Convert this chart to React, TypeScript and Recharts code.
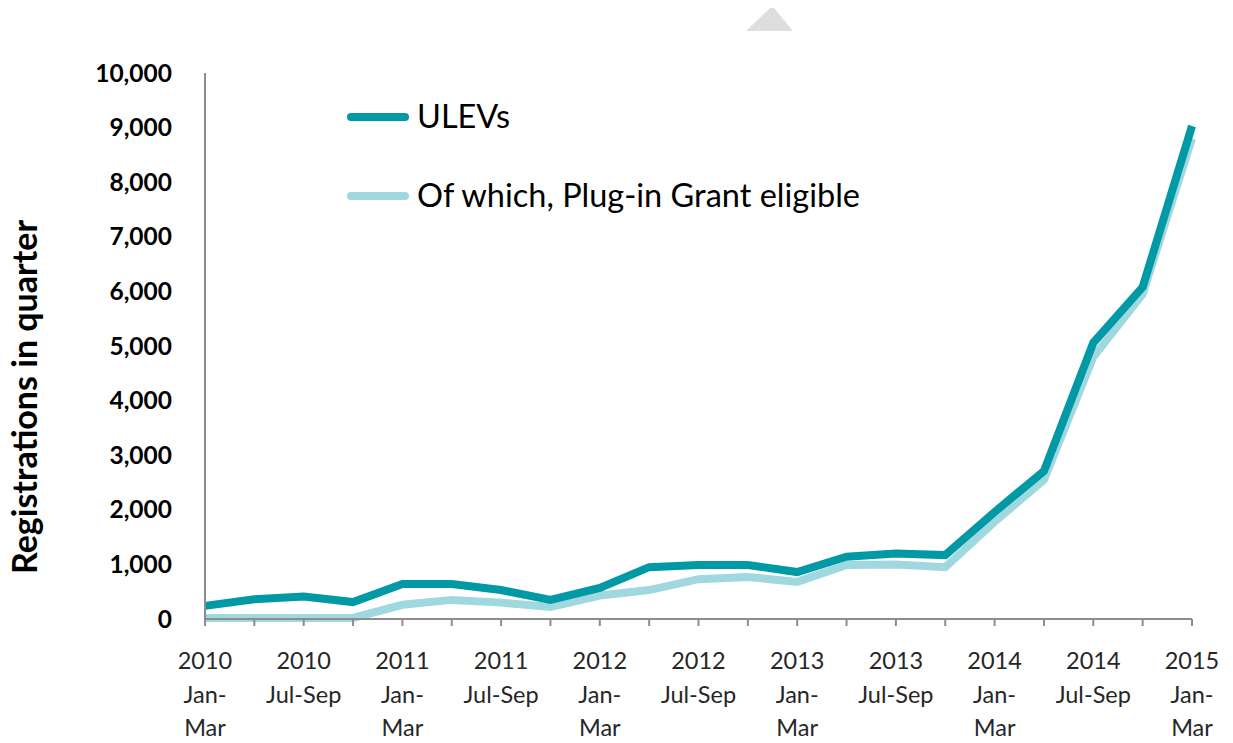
import { Line, LineChart, XAxis, YAxis, Label } from "recharts";

const years = ["2010", "2010", "2010", "2010", "2011", "2011", "2011", "2011", "2012", "2012", "2012", "2012", "2013", "2013", "2013", "2013", "2014", "2014", "2014", "2014", "2015"];
const quarters = ["Jan-Mar", "Apr-Jun", "Jul-Sep", "Oct-Dec", "Jan-Mar", "Apr-Jun", "Jul-Sep", "Oct-Dec", "Jan-Mar", "Apr-Jun", "Jul-Sep", "Oct-Dec", "Jan-Mar", "Apr-Jun", "Jul-Sep", "Oct-Dec", "Jan-Mar", "Apr-Jun", "Jul-Sep", "Oct-Dec", "Jan-Mar"];
const ulevs = [240, 360, 410, 310, 640, 640, 530, 350, 570, 950, 990, 990, 860, 1140, 1200, 1170, 1960, 2710, 5060, 6080, 9030];
const grantEligible = [20, 20, 20, 20, 260, 350, 300, 220, 430, 530, 730, 770, 680, 990, 1000, 950, 1780, 2550, 4800, 5950, 8800];
const yTicks = [0, 1000, 2000, 3000, 4000, 5000, 6000, 7000, 8000, 9000, 10000];

const data = years.map((y, i) => ({
  name: `${y} ${quarters[i]}`,
  year: y,
  quarter: quarters[i],
  ulevs: ulevs[i],
  grant: grantEligible[i],
}));

const DARK = "#0099a5";
const LIGHT = "#9fd9df";

function QuarterTick(props: any) {
  const { x, y, index } = props;
  if (index % 2 !== 0) return null;
  const d = data[index];
  const lines = d.quarter === "Jan-Mar" ? [d.year, "Jan-", "Mar"] : [d.year, d.quarter];
  return (
    <g>
      {lines.map((t, i) => (
        <text
          key={i}
          x={x}
          y={y + 41 + i * 33.5}
          textAnchor="middle"
          fontSize={23.5}
          fill="#262626"
          fontFamily="Lato, sans-serif"
        >
          {t}
        </text>
      ))}
    </g>
  );
}

function LegendBox() {
  const items = [
    { label: "ULEVs", color: DARK },
    { label: "Of which, Plug-in Grant eligible", color: LIGHT },
  ];
  return (
    <svg width={700} height={140} style={{ position: "absolute", left: 342, top: 95, overflow: "visible" }}>
      {items.map((it, i) => (
        <g key={it.label} transform={`translate(0, ${i * 79})`}>
          <line x1={9} x2={63} y1={22} y2={22} stroke={it.color} strokeWidth={8} strokeLinecap="round" />
          <text x={75} y={33} fontSize={32.5} fill="#000" fontFamily="Lato, sans-serif">
            {it.label}
          </text>
        </g>
      ))}
    </svg>
  );
}

export default function App() {
  return (
    <div style={{ position: "absolute", left: 0, top: 0, width: 1233, height: 743, background: "#fff" }}>
      <svg width={1233} height={743} style={{ position: "absolute", left: 0, top: 0 }}>
        <polygon points="746,31 770,8 774,8 793,31" fill="#dedede" />
      </svg>
      <div style={{ position: "absolute", left: 0, top: 0 }}>
        <LineChart
          width={1233}
          height={743}
          data={data}
          margin={{ top: 73, right: 41, left: 0, bottom: 0 }}
        >
          <XAxis
            dataKey="name"
            interval={0}
            height={124}
            stroke="#8c8c8c"
            strokeWidth={2}
            tickSize={7}
            tick={<QuarterTick />}
          />
          <YAxis
            width={205}
            domain={[0, 10000]}
            ticks={yTicks}
            interval={0}
            tickLine={false}
            stroke="#8c8c8c"
            strokeWidth={2}
            tickMargin={27}
            tick={{ fill: "#000", fontSize: 24.5, fontWeight: 700, fontFamily: "Lato, sans-serif" }}
            tickFormatter={(v: number) => v.toLocaleString("en-US")}
          >
            <Label
              content={() => (
                <text
                  x={37}
                  y={397}
                  transform="rotate(-90, 37, 397)"
                  textAnchor="middle"
                  fontSize={34}
                  fontWeight={700}
                  fill="#000"
                  fontFamily="Lato, sans-serif"
                >
                  Registrations in quarter
                </text>
              )}
            />
          </YAxis>
          <Line
            type="linear"
            dataKey="grant"
            name="Of which, Plug-in Grant eligible"
            stroke={LIGHT}
            strokeWidth={8}
            dot={false}
            activeDot={false}
            isAnimationActive={false}
          />
          <Line
            type="linear"
            dataKey="ulevs"
            name="ULEVs"
            stroke={DARK}
            strokeWidth={8}
            dot={false}
            activeDot={false}
            isAnimationActive={false}
          />
        </LineChart>
      </div>
      <LegendBox />
    </div>
  );
}
